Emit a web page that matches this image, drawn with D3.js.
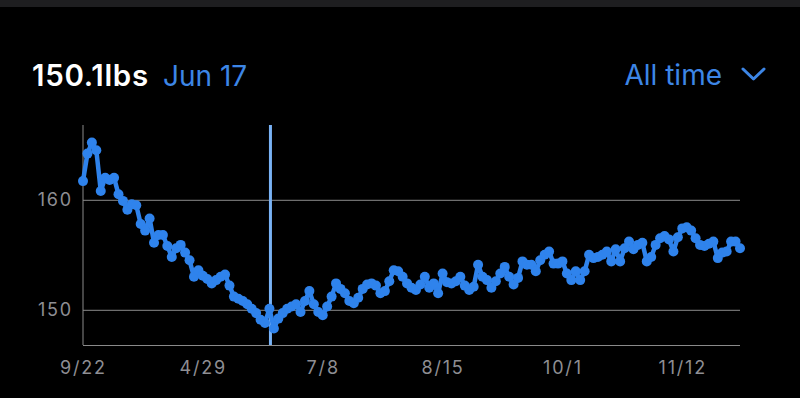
<!DOCTYPE html>
<html>
<head>
<meta charset="utf-8">
<script src="https://cdn.jsdelivr.net/npm/d3@7"></script>
<style>
  html, body { margin: 0; padding: 0; background: #000; }
  svg { display: block; }
</style>
</head>
<body>
<svg id="chart" width="800" height="398"></svg>
<script>
// ---- data ----
const weights = [
  161.7, 164.2, 165.2, 164.5, 160.8, 162.0, 161.8, 162.0, 160.5, 159.9,
  159.1, 159.6, 159.5, 157.8, 157.2, 158.3, 156.1, 156.8, 156.8, 155.8,
  154.8, 155.6, 155.9, 155.2, 154.5, 153.0, 153.6, 153.1, 152.8, 152.4,
  152.7, 153.0, 153.2, 152.2, 151.2, 151.0, 150.8, 150.5, 150.1, 149.7,
  149.1, 148.8, 150.1,
  148.3, 149.2, 149.7, 150.1, 150.3, 150.5, 149.8, 150.8, 151.7, 150.5,
  149.8, 149.5, 150.3, 151.2, 152.4, 151.9, 151.5, 150.8, 150.6, 151.1,
  151.9, 152.3, 152.4, 152.2, 151.5, 151.7, 152.6, 153.6, 153.5, 153.0,
  152.4, 152.0, 151.8, 152.3, 153.0, 152.0, 152.4, 151.5, 153.3, 152.5,
  152.4, 152.6, 153.0, 152.2, 151.8, 152.1, 154.1, 153.0, 152.7, 152.0,
  152.6, 153.3, 153.9, 153.0, 152.3, 152.9, 154.4, 154.1, 154.1, 153.5,
  154.5, 155.0, 155.3, 154.2, 154.2, 154.4, 153.3, 152.7, 153.5, 152.7,
  153.5, 155.0, 154.7, 154.8, 155.0, 155.3, 154.4, 155.5, 154.4, 155.6,
  156.2, 155.5, 155.9, 156.1, 154.4, 154.8, 155.9, 156.5, 156.7, 156.4,
  155.3, 156.6, 157.4, 157.5, 157.2, 156.5, 155.9, 155.8, 156.0, 156.2,
  154.7, 155.2, 155.3, 156.2, 156.2, 155.6
];
const tickIndex = [0, 27, 54, 81, 108, 135];
const tickLabels = ["9/22", "4/29", "7/8", "8/15", "10/1", "11/12"];
const yTicks = [150, 160];
const selectedIndex = 42;
const selectedLabel = "150.1lbs";
const selectedDate = "Jun 17";
const rangeLabel = "All time";

// ---- layout ----
const svg = d3.select("#chart");
const W = 800, H = 398;
const mLeft = 83, mRight = 740, mTop = 125, mBottom = 345;
const font = "Inter, 'Open Sans', sans-serif";
const blue = "#2f83ec";
const accent = "#3d86e6";

svg.append("rect").attr("width", W).attr("height", H).attr("fill", "#000");
svg.append("rect").attr("width", W).attr("height", 7).attr("fill", "#1e1e20");

const x = d3.scaleLinear().domain([0, weights.length - 1]).range([mLeft, mRight]);
const y = d3.scaleLinear().domain([146.8, 166.8]).range([mBottom, mTop]);

// header
svg.append("text").attr("x", 32).attr("y", 86)
  .attr("font-family", font).attr("font-size", 29.5).attr("font-weight", 600)
  .attr("fill", "#fff").attr("letter-spacing", 0.7).text(selectedLabel);
svg.append("text").attr("x", 163).attr("y", 86)
  .attr("font-family", font).attr("font-size", 28).attr("font-weight", 400)
  .attr("fill", accent).text(selectedDate);
svg.append("text").attr("x", 722).attr("y", 85).attr("text-anchor", "end")
  .attr("font-family", font).attr("font-size", 28).attr("font-weight", 400)
  .attr("fill", accent).text(rangeLabel);
svg.append("path").attr("d", "M743,69 L753.5,79 L764,69")
  .attr("fill", "none").attr("stroke", accent).attr("stroke-width", 3)
  .attr("stroke-linecap", "round").attr("stroke-linejoin", "round");

// gridlines
const yAxis = d3.axisLeft(y).tickValues(yTicks).tickSize(-(mRight - mLeft)).tickPadding(10).tickFormat(d3.format("d"));
const gy = svg.append("g").attr("transform", `translate(${mLeft},0)`).call(yAxis);
gy.select(".domain").remove();
gy.selectAll(".tick line").attr("stroke", "#8a8a8a").attr("stroke-width", 1);
gy.selectAll(".tick text").attr("fill", "#8e8e93").attr("font-family", font)
  .attr("font-size", 18).attr("letter-spacing", 1.8);

// axes lines
svg.append("line").attr("x1", mLeft).attr("x2", mLeft).attr("y1", mTop).attr("y2", mBottom)
  .attr("stroke", "#8a8a8a").attr("stroke-width", 1);

const xAxis = d3.axisBottom(x).tickValues(tickIndex).tickSize(0).tickPadding(16)
  .tickFormat((d, i) => tickLabels[i]);
const gx = svg.append("g").attr("transform", `translate(0,${mBottom})`).call(xAxis);
gx.select(".domain").attr("stroke", "#8a8a8a").attr("d", `M${mLeft},0.5H${mRight}`);
gx.selectAll(".tick text").attr("fill", "#8e8e93").attr("font-family", font)
  .attr("font-size", 18).attr("letter-spacing", 1.8);

// selected vertical marker
svg.append("line").attr("x1", x(selectedIndex) + 1).attr("x2", x(selectedIndex) + 1)
  .attr("y1", mTop).attr("y2", mBottom)
  .attr("stroke", "#79b2f5").attr("stroke-width", 3);

// line + dots
const line = d3.line().x((d, i) => x(i)).y(d => y(d));
svg.append("path").datum(weights).attr("d", line)
  .attr("fill", "none").attr("stroke", blue).attr("stroke-width", 4.5)
  .attr("stroke-linejoin", "round");
svg.append("g").selectAll("circle").data(weights).join("circle")
  .attr("cx", (d, i) => x(i)).attr("cy", d => y(d)).attr("r", 5)
  .attr("fill", blue);
</script>
</body>
</html>
